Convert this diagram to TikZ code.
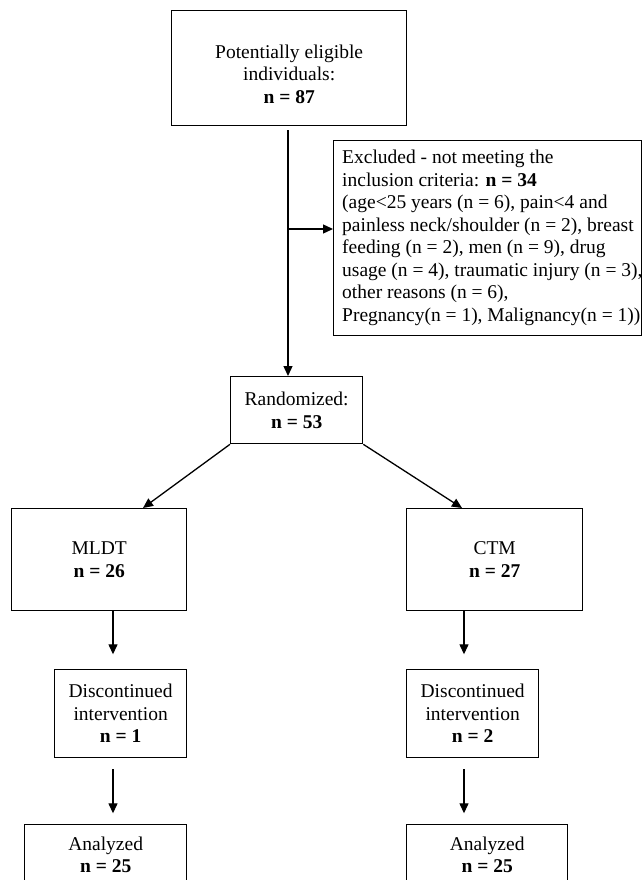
\documentclass[tikz,border=0pt]{standalone}
\usepackage{fontspec}
\setmainfont{Liberation Serif}
\usetikzlibrary{arrows.meta}
\begin{document}
\begin{tikzpicture}[x=1pt,y=-1pt,
  txt/.style={font=\fontsize{19.5}{22.5}\selectfont},
  box/.style={draw, line width=1.3pt, inner sep=0pt, anchor=north west, align=center, txt},
  arr/.style={line width=1.3pt, -{Triangle[length=10pt,width=9pt]}}]
\useasboundingbox (0,0) rectangle (643,880);
\clip (0,0) rectangle (643,880);
\node[box, minimum width=235pt, minimum height=115pt] (top) at (171,10) {\rule{0pt}{25pt}Potentially eligible\\individuals:\\\textbf{n = 87}};
\node[box, minimum width=308pt, minimum height=195pt] (excl) at (333,140) {};
\node[txt, anchor=west, align=left, inner sep=0pt] (excltxt) at (342,238) {Excluded - not meeting the\\inclusion criteria: \textbf{n = 34}\\(age<25 years (n = 6), pain<4 and\\painless neck/shoulder (n = 2), breast\\feeding (n = 2), men (n = 9), drug\\usage (n = 4), traumatic injury (n = 3),\\other reasons (n = 6),\\Pregnancy(n = 1), Malignancy(n = 1))};
\node[box, minimum width=132pt, minimum height=67pt] (rand) at (230,376) {Randomized:\\\textbf{n = 53}};
\node[box, minimum width=175pt, minimum height=102pt] (mldt) at (11,508) {MLDT\\\textbf{n = 26}};
\node[box, minimum width=176pt, minimum height=102pt] (ctm) at (406,508) {CTM\\\textbf{n = 27}};
\node[box, minimum width=132pt, minimum height=88pt] (disc1) at (54,669) {Discontinued\\intervention\\\textbf{n = 1}};
\node[box, minimum width=132pt, minimum height=88pt] (disc2) at (406,669) {Discontinued\\intervention\\\textbf{n = 2}};
\node[box, minimum width=162pt, minimum height=60pt] (anal1) at (24,824) {Analyzed\\\textbf{n = 25}};
\node[box, minimum width=161pt, minimum height=60pt] (anal2) at (406,824) {Analyzed\\\textbf{n = 25}};
\coordinate (a1) at (288,130);
\coordinate (b1) at (288,229);
\draw[arr] (a1) -- (a1 |- rand.north);
\draw[arr] (b1) -- (b1 -| excl.west);
\draw[arr] (rand.south west) -- ([xshift=132pt]mldt.north west);
\draw[arr] (rand.south east) -- ([xshift=56pt]ctm.north west);
\draw[arr] ([xshift=102pt]mldt.south west) -- ++(0,43);
\draw[arr] ([xshift=59pt,yshift=-11pt]disc1.south west) -- ++(0,44);
\draw[arr] ([xshift=58pt]ctm.south west) -- ++(0,43);
\draw[arr] ([xshift=58pt,yshift=-11pt]disc2.south west) -- ++(0,44);
\end{tikzpicture}
\end{document}
